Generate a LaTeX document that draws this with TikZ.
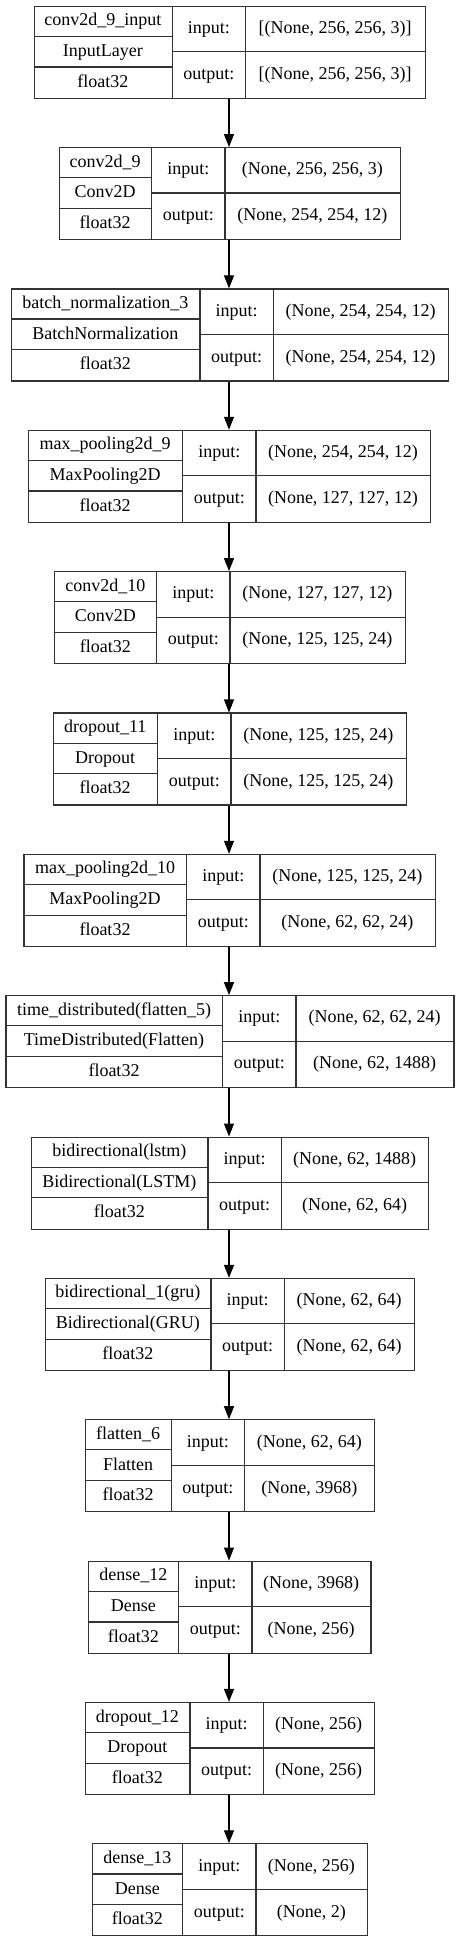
\documentclass[tikz,border=0pt]{standalone}
\usepackage{fontspec}
\setmainfont{Liberation Serif}
\usetikzlibrary{arrows.meta}

\tikzset{
  frame/.style={draw=black!80, line width=1.2pt, inner sep=0pt, anchor=north west},
  rule/.style={draw=black!80, line width=1.2pt},
  lbl/.style={inner sep=0pt, text height=13.6pt, text depth=4pt,
    font=\fontsize{18}{21}\selectfont},
  flow/.style={-{Triangle[length=13pt,width=10pt]}, line width=1.1pt},
}

% one keras layer: #1 id, #2 top, #3 left, #4 split, #5 right,
% #6 name, #7 class, #8 input shape, #9 output shape
\newcommand\kerasbox[9]{%
  \node[frame, minimum width={#5pt-#3pt}, minimum height=92pt] (#1) at (#3,#2) {};
  \draw[rule] (#4,#2) -- ++(0,92);
  \draw[rule] ({#4+73.3},#2) -- ++(0,92);
  \draw[rule] (#3,{#2+30.67}) -- (#4,{#2+30.67});
  \draw[rule] (#3,{#2+61.33}) -- (#4,{#2+61.33});
  \draw[rule] (#4,{#2+46}) -- (#5,{#2+46});
  \node[lbl] (#1n) at ({(#3+#4)/2},{#2+15.33}) {#6};
  \node[lbl] (#1c) at ({(#3+#4)/2},{#2+46}) {#7};
  \node[lbl] (#1f) at ({(#3+#4)/2},{#2+76.67}) {float32};
  \node[lbl] (#1ki) at ({#4+36.65},{#2+23}) {input:};
  \node[lbl] (#1ko) at ({#4+36.65},{#2+69}) {output:};
  \node[lbl] (#1i) at ({(#4+73.3+#5)/2},{#2+23}) {#8};
  \node[lbl] (#1o) at ({(#4+73.3+#5)/2},{#2+69}) {#9};
}

\begin{document}
\begin{tikzpicture}[x=1pt, y=-1pt]
  %tikz  model summary, one box per layer
  \useasboundingbox (0,0) rectangle (459,1941);
  \coordinate (axis) at (229,0);
  \kerasbox{inp}{5.7}{33.5}{172.3}{424.7}{conv2d\_9\_input}{InputLayer}{[(None, 256, 256, 3)]}{[(None, 256, 256, 3)]}
  \kerasbox{convA}{147.05}{58.7}{151.7}{399.7}{conv2d\_9}{Conv2D}{(None, 256, 256, 3)}{(None, 254, 254, 12)}
  \kerasbox{bnorm}{288.4}{10.7}{200}{448}{batch\_normalization\_3}{BatchNormalization}{(None, 254, 254, 12)}{(None, 254, 254, 12)}
  \kerasbox{poolA}{429.75}{27.7}{182.7}{430}{max\_pooling2d\_9}{MaxPooling2D}{(None, 254, 254, 12)}{(None, 127, 127, 12)}
  \kerasbox{convB}{571.1}{54}{156.7}{404.7}{conv2d\_10}{Conv2D}{(None, 127, 127, 12)}{(None, 125, 125, 24)}
  \kerasbox{dropA}{712.45}{52.7}{157.7}{405.7}{dropout\_11}{Dropout}{(None, 125, 125, 24)}{(None, 125, 125, 24)}
  \kerasbox{poolB}{853.8}{23.3}{186.7}{434.7}{max\_pooling2d\_10}{MaxPooling2D}{(None, 125, 125, 24)}{(None, 62, 62, 24)}
  \kerasbox{tdist}{995.15}{5.3}{222.7}{453.3}{time\_distributed(flatten\_5)}{TimeDistributed(Flatten)}{(None, 62, 62, 24)}{(None, 62, 1488)}
  \kerasbox{lstm}{1136.5}{30.7}{208}{428}{bidirectional(lstm)}{Bidirectional(LSTM)}{(None, 62, 1488)}{(None, 62, 64)}
  \kerasbox{gru}{1277.85}{44.7}{211}{414}{bidirectional\_1(gru)}{Bidirectional(GRU)}{(None, 62, 64)}{(None, 62, 64)}
  \kerasbox{flat}{1419.2}{84.7}{171.3}{374}{flatten\_6}{Flatten}{(None, 62, 64)}{(None, 3968)}
  \kerasbox{denseA}{1560.55}{88}{178.7}{370.3}{dense\_12}{Dense}{(None, 3968)}{(None, 256)}
  \kerasbox{dropB}{1701.9}{84.7}{190}{374}{dropout\_12}{Dropout}{(None, 256)}{(None, 256)}
  \kerasbox{denseB}{1843.25}{92}{182.7}{366.7}{dense\_13}{Dense}{(None, 256)}{(None, 2)}
  \draw[flow] (inp.south -| axis) -- (convA.north -| axis);
  \draw[flow] (convA.south -| axis) -- (bnorm.north -| axis);
  \draw[flow] (bnorm.south -| axis) -- (poolA.north -| axis);
  \draw[flow] (poolA.south -| axis) -- (convB.north -| axis);
  \draw[flow] (convB.south -| axis) -- (dropA.north -| axis);
  \draw[flow] (dropA.south -| axis) -- (poolB.north -| axis);
  \draw[flow] (poolB.south -| axis) -- (tdist.north -| axis);
  \draw[flow] (tdist.south -| axis) -- (lstm.north -| axis);
  \draw[flow] (lstm.south -| axis) -- (gru.north -| axis);
  \draw[flow] (gru.south -| axis) -- (flat.north -| axis);
  \draw[flow] (flat.south -| axis) -- (denseA.north -| axis);
  \draw[flow] (denseA.south -| axis) -- (dropB.north -| axis);
  \draw[flow] (dropB.south -| axis) -- (denseB.north -| axis);
\end{tikzpicture}
\end{document}
